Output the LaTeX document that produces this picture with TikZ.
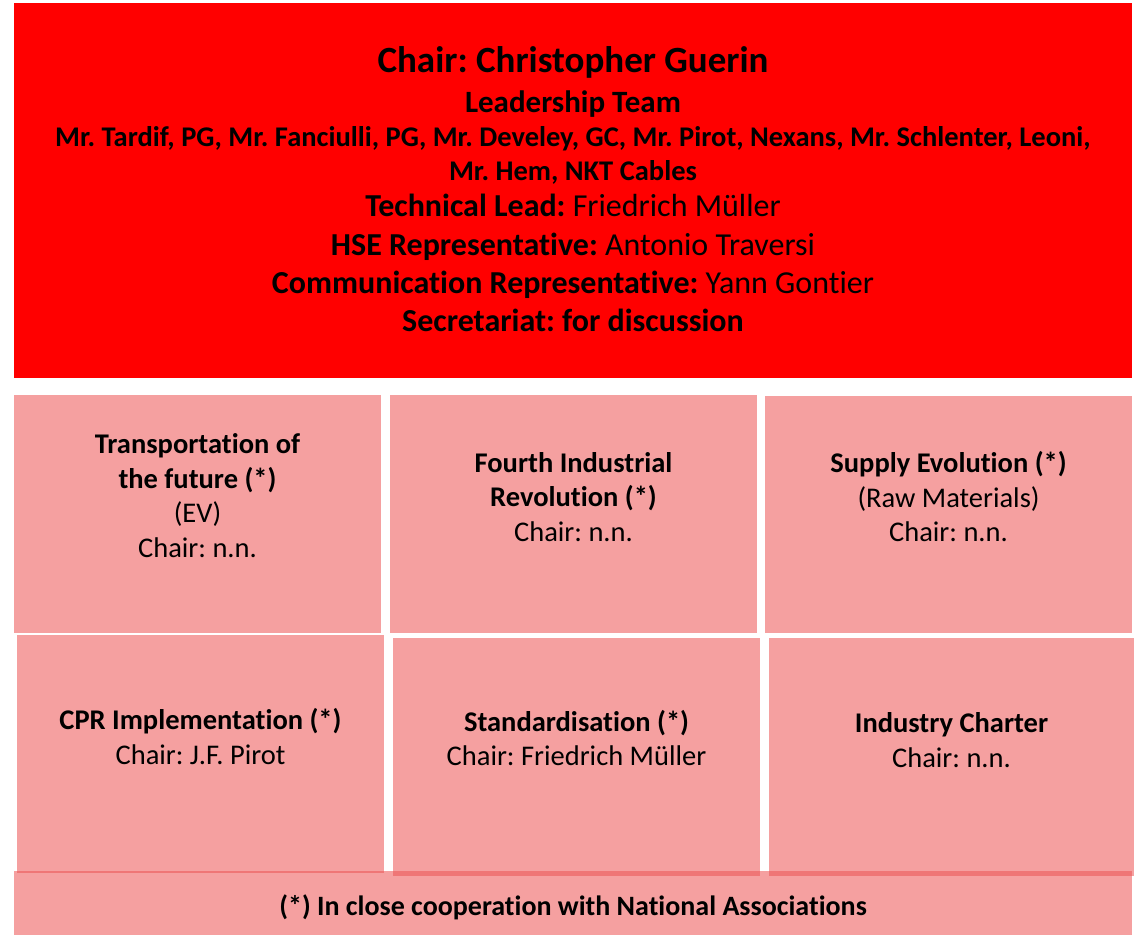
\documentclass[tikz,border=0pt]{standalone}
\usepackage{fontspec}
\setmainfont{Carlito}[Ligatures=NoCommon]
\definecolor{topred}{HTML}{FF0000}
\definecolor{pinkbox}{HTML}{F5A0A0}
\definecolor{pinkdark}{HTML}{EF7676}
\begin{document}
\frenchspacing
\begin{tikzpicture}[x=1pt,y=-1pt,
  lbl/.style={anchor=base,align=center,inner sep=0pt,text=black},
  boxtxt/.style={lbl,font=\fontsize{28.5}{34.5}\selectfont},
  toptxt/.style={lbl,font=\fontsize{32}{38}\selectfont}]
\useasboundingbox (0,0) rectangle (1134,935);
% top red panel
\fill[topred] (14,3) rectangle (1132,378);
% bottom bar
\fill[pinkbox] (14,871) rectangle (1132,935);
% boxes
\fill[pinkbox] (14,395) rectangle (381,633);
\fill[pinkbox] (390,395) rectangle (757,633);
\fill[pinkbox] (765,396) rectangle (1132,633);
\fill[pinkbox] (17,635) rectangle (384,872);
\fill[pinkbox] (393,638) rectangle (760,876);
\fill[pinkbox] (769,638) rectangle (1134,876);
% overlap strips
\fill[pinkdark] (17,871) rectangle (384,873);
\fill[pinkdark] (393,871) rectangle (760,876);
\fill[pinkdark] (769,871) rectangle (1132,876);
% top texts
\node[lbl,font=\bfseries\fontsize{37}{40}\selectfont] (chair) at (573,72.7) {Chair: Christopher Guerin};
\node[lbl,font=\bfseries\fontsize{31}{36}\selectfont] (lead) at (573,112.3) {Leadership Team};
\node[lbl,font=\bfseries\fontsize{28.5}{33.3}\selectfont] (team) at (573,180) {Mr. Tardif, PG, Mr. Fanciulli, PG, Mr. Develey, GC, Mr. Pirot, Nexans, Mr. Schlenter, Leoni,\\Mr. Hem, NKT Cables};
\node[toptxt] (tech) at (573,216.7) {\textbf{Technical Lead:} Friedrich Müller};
\node[toptxt] (hse) at (573,255) {\textbf{HSE Representative:} Antonio Traversi};
\node[toptxt] (comm) at (573,293.3) {\textbf{Communication Representative:} Yann Gontier};
\node[toptxt] (secr) at (573,331.7) {\textbf{Secretariat: for discussion}};
% box texts (anchor base = baseline of last line)
\node[boxtxt] (transp) at (197.5,557.3) {\textbf{Transportation of}\\\textbf{the future (*)}\\(EV)\\Chair: n.n.};
\node[boxtxt] (fourth) at (573.5,541) {\textbf{Fourth Industrial}\\\textbf{Revolution (*)}\\Chair: n.n.};
\node[boxtxt] (supply) at (948.5,541.5) {\textbf{Supply Evolution (*)}\\(Raw Materials)\\Chair: n.n.};
\node[boxtxt] (cpr) at (200.5,764) {\textbf{CPR Implementation (*)}\\Chair: J.F. Pirot};
\node[boxtxt] (std) at (576.5,765.7) {\textbf{Standardisation (*)}\\Chair: Friedrich Müller};
\node[boxtxt] (charter) at (951.5,767) {\textbf{Industry Charter}\\Chair: n.n.};
\node[lbl,font=\bfseries\fontsize{28}{30}\selectfont] (note) at (573,915) {(*) In close cooperation with National Associations};
\end{tikzpicture}
\end{document}
